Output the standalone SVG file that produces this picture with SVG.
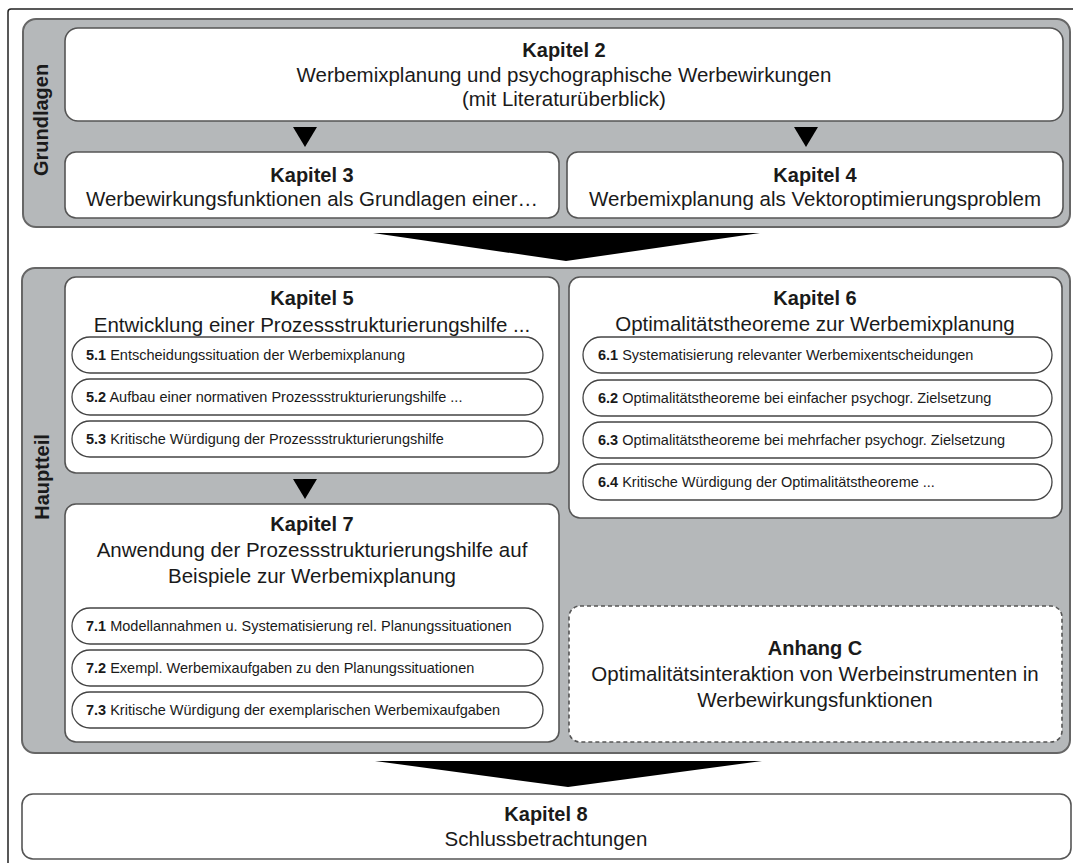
<svg xmlns="http://www.w3.org/2000/svg" width="1073" height="863" viewBox="0 0 1073 863">
<style>
text{font-family:"Liberation Sans",Arial,sans-serif;fill:#1a1a1a}
.panel{fill:#b5b8ba;stroke:#666;stroke-width:2}
.box{fill:#fff;stroke:#555;stroke-width:1.6}
.pill{fill:#fff;stroke:#444;stroke-width:1.3}
.dash{fill:#fff;stroke:#555;stroke-width:1.6;stroke-dasharray:4 3}
.h{font-size:20px;font-weight:bold;text-anchor:middle}
.t{font-size:20.5px;text-anchor:middle}
.s{font-size:14.5px}
.b{font-weight:bold}
.side{font-size:20px;font-weight:bold;text-anchor:middle}
.arr{fill:#000}
</style>
<rect width="1073" height="863" fill="#fff"/>
<path d="M8,863 V12 Q8,9 11,9 H1073" fill="none" stroke="#222" stroke-width="1.5"/>

<g id="grundlagen">
<rect class="panel" x="23" y="19" width="1047" height="208" rx="13"/>
<text class="side" transform="translate(48,120) rotate(-90)">Grundlagen</text>
</g>

<g id="hauptteil">
<rect class="panel" x="22" y="268" width="1048" height="485" rx="13"/>
<text class="side" transform="translate(49,477) rotate(-90)">Hauptteil</text>
</g>

<g id="kapitel2">
<rect class="box" x="65" y="28" width="998" height="93" rx="13"/>
<text class="h" x="564" y="57">Kapitel 2</text>
<text class="t" x="564" y="82">Werbemixplanung und psychographische Werbewirkungen</text>
<text class="t" x="564" y="106">(mit Literaturüberblick)</text>
</g>

<g id="kapitel3">
<rect class="box" x="65" y="152" width="494" height="66" rx="11"/>
<text class="h" x="312" y="182">Kapitel 3</text>
<text class="t" x="312" y="206">Werbewirkungsfunktionen als Grundlagen einer…</text>
</g>

<g id="kapitel4">
<rect class="box" x="567" y="152" width="496" height="66" rx="11"/>
<text class="h" x="815" y="182">Kapitel 4</text>
<text class="t" x="815" y="206">Werbemixplanung als Vektoroptimierungsproblem</text>
</g>

<g id="kapitel5">
<rect class="box" x="65" y="277" width="494" height="196" rx="11"/>
<text class="h" x="312" y="305">Kapitel 5</text>
<text class="t" x="312" y="332">Entwicklung einer Prozessstrukturierungshilfe ...</text>
<rect class="pill" x="72" y="337" width="471" height="36" rx="18"/>
<text class="s" x="86" y="360"><tspan class="b">5.1</tspan> Entscheidungssituation der Werbemixplanung</text>
<rect class="pill" x="72" y="379" width="471" height="36" rx="18"/>
<text class="s" x="86" y="402"><tspan class="b">5.2</tspan> Aufbau einer normativen Prozessstrukturierungshilfe ...</text>
<rect class="pill" x="72" y="421" width="471" height="36" rx="18"/>
<text class="s" x="86" y="444"><tspan class="b">5.3</tspan> Kritische Würdigung der Prozessstrukturierungshilfe</text>
</g>

<g id="kapitel6">
<rect class="box" x="569" y="277" width="493" height="241" rx="11"/>
<text class="h" x="815" y="305">Kapitel 6</text>
<text class="t" x="815" y="331">Optimalitätstheoreme zur Werbemixplanung</text>
<rect class="pill" x="583" y="337" width="469" height="36" rx="18"/>
<text class="s" x="598" y="360"><tspan class="b">6.1</tspan> Systematisierung relevanter Werbemixentscheidungen</text>
<rect class="pill" x="583" y="380" width="469" height="36" rx="18"/>
<text class="s" x="598" y="403"><tspan class="b">6.2</tspan> Optimalitätstheoreme bei einfacher psychogr. Zielsetzung</text>
<rect class="pill" x="583" y="422" width="469" height="36" rx="18"/>
<text class="s" x="598" y="445"><tspan class="b">6.3</tspan> Optimalitätstheoreme bei mehrfacher psychogr. Zielsetzung</text>
<rect class="pill" x="583" y="464" width="469" height="36" rx="18"/>
<text class="s" x="598" y="487"><tspan class="b">6.4</tspan> Kritische Würdigung der Optimalitätstheoreme ...</text>
</g>

<g id="kapitel7">
<rect class="box" x="65" y="504" width="494" height="238" rx="11"/>
<text class="h" x="312" y="531">Kapitel 7</text>
<text class="t" x="312" y="557">Anwendung der Prozessstrukturierungshilfe auf</text>
<text class="t" x="312" y="583">Beispiele zur Werbemixplanung</text>
<rect class="pill" x="72" y="608" width="471" height="36" rx="18"/>
<text class="s" x="86" y="631"><tspan class="b">7.1</tspan> Modellannahmen u. Systematisierung rel. Planungssituationen</text>
<rect class="pill" x="72" y="650" width="471" height="36" rx="18"/>
<text class="s" x="86" y="673"><tspan class="b">7.2</tspan> Exempl. Werbemixaufgaben zu den Planungssituationen</text>
<rect class="pill" x="72" y="692" width="471" height="36" rx="18"/>
<text class="s" x="86" y="715"><tspan class="b">7.3</tspan> Kritische Würdigung der exemplarischen Werbemixaufgaben</text>
</g>

<g id="anhangC">
<rect class="dash" x="569" y="606" width="493" height="136" rx="11"/>
<text class="h" x="815" y="655">Anhang C</text>
<text class="t" x="815" y="681">Optimalitätsinteraktion von Werbeinstrumenten in</text>
<text class="t" x="815" y="707">Werbewirkungsfunktionen</text>
</g>

<g id="kapitel8">
<rect class="box" x="22" y="794" width="1049" height="65" rx="11"/>
<text class="h" x="546" y="821">Kapitel 8</text>
<text class="t" x="546" y="846">Schlussbetrachtungen</text>
</g>

<g id="connectors">
<polygon class="arr" points="293,127 317,127 305,147"/>
<polygon class="arr" points="794,127 818,127 806,147"/>
<polygon class="arr" points="293,479 317,479 305,499"/>
<polygon class="arr" points="373,233 760,233 566,261"/>
<polygon class="arr" points="375,761 762,761 568,787"/>
</g>
</svg>
